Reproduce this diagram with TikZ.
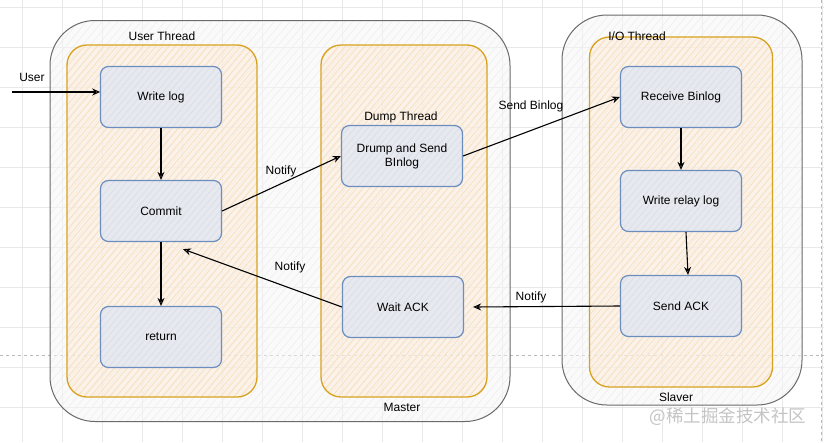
\documentclass[tikz,border=0pt]{standalone}
\usepackage{fontspec}
\setmainfont{Liberation Sans}
\newfontfamily\cjk{Noto Sans CJK SC}
\usetikzlibrary{patterns.meta, arrows.meta, calc}
\definecolor{gridc}{HTML}{E8E8E8}
\definecolor{outerstroke}{HTML}{6A6A6A}
\definecolor{outerfill}{HTML}{F6F6F6}
\definecolor{outerhatch}{HTML}{EEEEEE}
\definecolor{orstroke}{HTML}{D9A21E}
\definecolor{orfill}{HTML}{FDEBD6}
\definecolor{orhatch}{HTML}{FADDBA}
\definecolor{blstroke}{HTML}{6C8EBF}
\definecolor{blfill}{HTML}{E4E8F0}
\definecolor{blhatch}{HTML}{D6DFEE}
\definecolor{wmark}{HTML}{C4C4C4}
\begin{document}
\begin{tikzpicture}[x=1pt,y=-1pt,
  every node/.style={font=\fontsize{12}{14}\selectfont, text=black},
  outerbox/.style={draw=outerstroke, line width=1pt, rounded corners=45pt,
    preaction={fill=outerfill, fill opacity=0.5},
    pattern={Lines[angle=50,distance=6pt,line width=0.6pt]}, pattern color=outerhatch,
    inner sep=0pt, minimum width=#1},
  orbox/.style={draw=orstroke, line width=1.3pt, rounded corners=20pt,
    preaction={fill=orfill, fill opacity=0.45},
    pattern={Lines[angle=50,distance=5pt,line width=0.7pt]}, pattern color=orhatch,
    inner sep=0pt},
  blbox/.style={draw=blstroke, line width=1.2pt, rounded corners=8pt,
    preaction={fill=blfill, fill opacity=0.85},
    pattern={Lines[angle=50,distance=5pt,line width=0.6pt]}, pattern color=blhatch,
    minimum width=121pt, minimum height=61pt, inner sep=0pt, align=center},
  lbl/.style={inner sep=1pt},
  arr/.style={-{Stealth[open,length=8pt,width=7pt]}, line width=1.1pt, black},
]
\useasboundingbox (0,0) rectangle (824,442);
\fill[white] (0,0) rectangle (824,442);
% grid
\foreach \gx in {22,62,...,822} \draw[gridc, line width=0.6pt] (\gx,0) -- (\gx,442);
\foreach \gy in {7,47,...,442} \draw[gridc, line width=0.6pt] (0,\gy) -- (824,\gy);
% page break lines
\draw[gray!55, line width=0.5pt, dash pattern=on 3pt off 3pt] (0,355) -- (824,355);
\draw[gray!55, line width=0.5pt, dash pattern=on 3pt off 3pt] (821,0) -- (821,442);

% outer containers
\node[outerbox=460pt, minimum height=401pt] (master) at (280,221) {};
\node[outerbox=240pt, minimum height=390pt] (slaver) at (682,210) {};
% orange threads
\node[orbox, minimum width=190pt, minimum height=352pt] (ut) at (162,221) {};
\node[orbox, minimum width=166pt, minimum height=352pt] (dt) at (404,221) {};
\node[orbox, minimum width=183pt, minimum height=350pt] (iot) at (681,212) {};

% blue steps
\node[blbox] (wl) at (161,97) {Write log};
\node[blbox] (cm) at (161,211) {Commit};
\node[blbox] (ret) at (161,337) {return};
\node[blbox] (ds) at (402,156) {Drump and Send\\BInlog};
\node[blbox] (wa) at (403,307) {Wait ACK};
\node[blbox] (rb) at (681,97) {Receive Binlog};
\node[blbox] (wr) at (681,201) {Write relay log};
\node[blbox] (sa) at (681,306) {Send ACK};

% labels
\node[lbl] (lut) at (162,36) {User Thread};
\node[lbl] (ldt) at (401,117) {Dump Thread};
\node[lbl] (lio) at (637,36) {I/O Thread};
\node[lbl] (lma) at (402,407) {Master};
\node[lbl] (lsl) at (676,397) {Slaver};
\node[lbl] (luser) at (32,77) {User};
\node[lbl] (ln1) at (281,171) {Notify};
\node[lbl] (lsb) at (531,106) {Send Binlog};
\node[lbl] (ln2) at (290,267) {Notify};
\node[lbl] (ln3) at (531,297) {Notify};

% connectors
\coordinate (ustart) at (12,92);
\coordinate (cmtip) at ($(cm.south)+(22,7)$);
\coordinate (watip) at ($(wa.east)+(9,0)$);
\draw[arr] (ustart) -- (wl.west |- ustart);
\draw[arr] (wl.south) -- (cm.north);
\draw[arr] (cm.south) -- (ret.north);
\draw[arr] (cm.east) -- (ds.west);
\draw[arr] (ds.east) -- (rb.west);
\draw[arr] (rb.south) -- (wr.north);
\draw[arr] ([xshift=5pt]wr.south) -- ([xshift=7pt]sa.north);
\draw[arr] (sa.west) -- (watip);
\draw[arr] (wa.west) -- (cmtip);

% watermark
\node[text=wmark, font=\cjk\fontsize{17.5}{20}\selectfont, inner sep=0pt] (wm) at (728,417) {@稀土掘金技术社区};
\end{tikzpicture}
\end{document}
